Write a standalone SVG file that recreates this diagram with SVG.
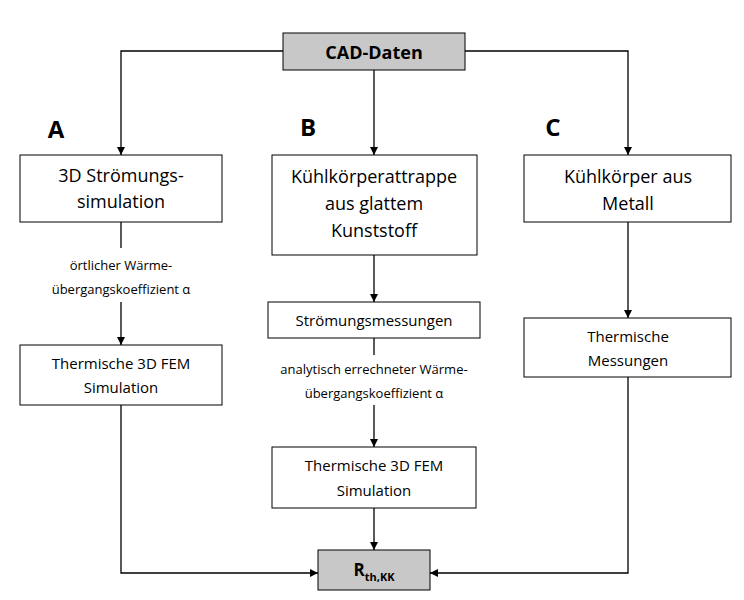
<svg xmlns="http://www.w3.org/2000/svg" width="744" height="600" viewBox="0 0 744 600">
<style>
text{font-family:"Open Sans","Liberation Sans",sans-serif;fill:#000;text-anchor:middle}
.b{fill:#fff;stroke:#000;stroke-width:1}
.g{fill:#c8c8c8;stroke:#000;stroke-width:1}
.c{fill:none;stroke:#000;stroke-width:1.3;marker-end:url(#a)}
.n{fill:none;stroke:#000;stroke-width:1.3}
.big{font-size:18px}
.m{font-size:15px}
.s{font-size:13px}
.L{font-size:24px;font-weight:bold}
</style>
<defs><marker id="a" viewBox="0 0 10 10" refX="10" refY="5" markerWidth="8" markerHeight="8" markerUnits="userSpaceOnUse" orient="auto"><path d="M0,0L10,5L0,10z"/></marker></defs>
<rect width="744" height="600" fill="#fff"/>
<g id="connectors">
<path class="c" d="M283,51H121V155"/>
<path class="c" d="M465,51H628V155"/>
<path class="c" d="M374,70V155"/>
<path class="n" d="M121,222V248"/>
<path class="c" d="M121,302V345"/>
<path class="c" d="M121,405V573H318"/>
<path class="c" d="M374,255V302"/>
<path class="n" d="M374,338V355"/>
<path class="c" d="M374,405V447"/>
<path class="c" d="M374,508V550"/>
<path class="c" d="M628,222V318"/>
<path class="c" d="M628,377V573H430"/>
</g>
<g id="labels">
<text class="L" x="56" y="138">A</text>
<text class="L" x="308" y="136">B</text>
<text class="L" x="553" y="136">C</text>
<text class="s" x="121" y="270">örtlicher Wärme-</text>
<text class="s" x="121" y="294">übergangskoeffizient α</text>
<text class="s" x="374" y="374">analytisch errechneter Wärme-</text>
<text class="s" x="374" y="398">übergangskoeffizient α</text>
</g>
<g id="cad"><rect class="g" x="283" y="33" width="182" height="37"/><text x="374" y="59" font-size="18" font-weight="bold">CAD-Daten</text></g>
<g id="a1"><rect class="b" x="20" y="155" width="202" height="67"/><text class="big" x="121" y="182">3D Strömungs-</text><text class="big" x="121" y="208">simulation</text></g>
<g id="a2"><rect class="b" x="20" y="345" width="202" height="60"/><text class="m" x="121" y="369">Thermische 3D FEM</text><text class="m" x="121" y="393">Simulation</text></g>
<g id="b1"><rect class="b" x="272" y="155" width="205" height="100"/><text class="big" x="374" y="183">Kühlkörperattrappe</text><text class="big" x="374" y="210">aus glattem</text><text class="big" x="374" y="237">Kunststoff</text></g>
<g id="b2"><rect class="b" x="268" y="302" width="212" height="36"/><text class="m" x="374" y="326">Strömungsmessungen</text></g>
<g id="b3"><rect class="b" x="272" y="447" width="204" height="61"/><text class="m" x="374" y="471">Thermische 3D FEM</text><text class="m" x="374" y="496">Simulation</text></g>
<g id="c1"><rect class="b" x="524" y="155" width="207" height="67"/><text class="big" x="628" y="183">Kühlkörper aus</text><text class="big" x="628" y="210">Metall</text></g>
<g id="c2"><rect class="b" x="524" y="318" width="207" height="59"/><text class="m" x="628" y="342">Thermische</text><text class="m" x="628" y="366">Messungen</text></g>
<g id="r"><rect class="g" x="318" y="550" width="112" height="40"/><text x="374" y="576" font-size="17" font-weight="bold">R<tspan font-size="11" dy="5">th,KK</tspan></text></g>
</svg>
